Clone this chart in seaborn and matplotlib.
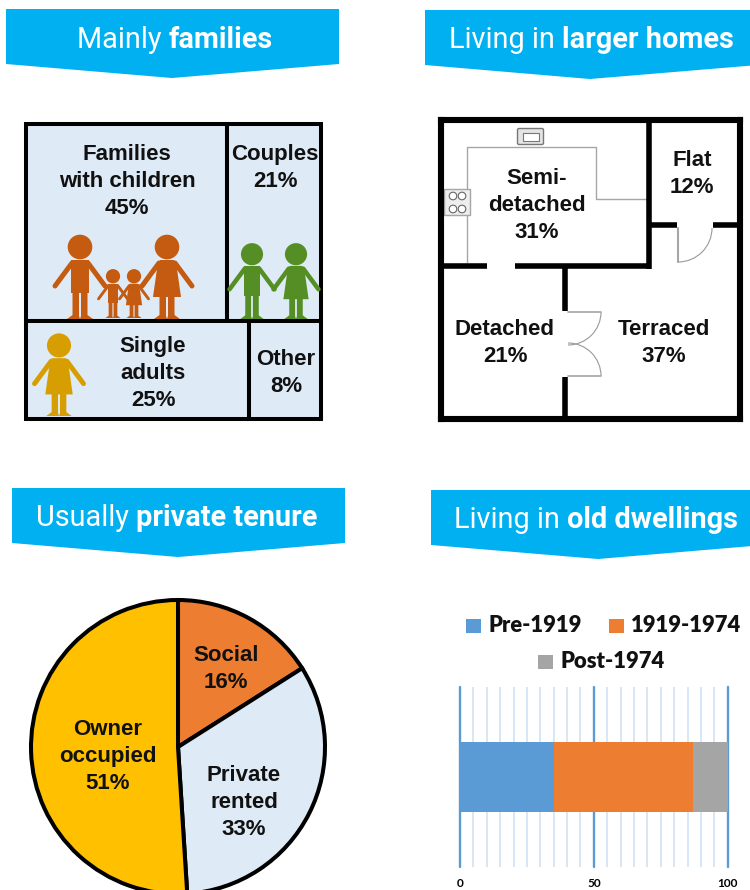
import matplotlib
matplotlib.use('Agg')
import matplotlib.pyplot as plt
import pandas as pd
import seaborn as sns
from matplotlib.patches import Arc, Circle, FancyBboxPatch, Polygon, Rectangle

household_labels = ['Families\nwith children', 'Couples', 'Single\nadults', 'Other']
household_shares = [45, 21, 25, 8]

home_labels = ['Semi-\ndetached', 'Flat', 'Detached', 'Terraced']
home_shares = [31, 12, 21, 37]

tenure_labels = ['Social', 'Private\nrented', 'Owner\noccupied']
tenure_shares = [16, 33, 51]

age_periods = ['Pre-1919', '1919-1974', 'Post-1974']
age_shares = [35, 52, 13]

W, H = 750, 890
BLUE = '#00B0F0'
PALE = '#DEEAF6'
SANS = 'Liberation Sans'

sns.set_theme(style='white')
plt.rcParams['font.family'] = [SANS, 'DejaVu Sans']

fig = plt.figure(figsize=(W / 100, H / 100), dpi=100)


def px_axes(x0, y0, x1, y1, **kw):
    return fig.add_axes([x0 / W, 1 - y1 / H, (x1 - x0) / W, (y1 - y0) / H], **kw)


over = px_axes(0, 0, W, H)
over.set_xlim(0, W)
over.set_ylim(H, 0)
over.axis('off')
over.set_zorder(5)
over.patch.set_alpha(0)


def banner(x0, x1, top, side, tip, tip_x, regular, bold, text_x):
    over.add_patch(Polygon([(x0, top), (x1, top), (x1, side), (tip_x, tip), (x0, side)],
                           fc=BLUE, ec='none'))
    y = (top + side) / 2
    t = over.text(text_x, y, regular + ' ', color='white', fontsize=20.8, va='center_baseline',
                  fontfamily='Roboto')
    over.annotate(bold, xy=(1, 0), xycoords=t, color='white', fontsize=20.8, fontweight='bold',
                  fontfamily='Roboto', va='bottom', ha='left', annotation_clip=False)


banner(6, 339, 9, 64, 78, 172, 'Mainly', 'families', 77)
banner(425, 758, 10, 65, 79, 590, 'Living in', 'larger homes', 449)
banner(12, 345, 488, 543, 557, 178, 'Usually', 'private tenure', 36)
banner(431, 764, 490, 545, 559, 598, 'Living in', 'old dwellings', 454)


def label(x, y, name, share, size=16, gap=27):
    lines = name.split('\n') + [f'{share}%']
    for i, line in enumerate(lines):
        over.text(x, y + 1.5 + i * gap, line, ha='center', va='center', fontsize=size,
                  fontweight='bold', color='#111111')


# treemap, split by the shares
bx0, by0, bx1, by1 = 26, 124, 321, 419
top_sum = household_shares[0] + household_shares[1]
low_sum = household_shares[2] + household_shares[3]
ymid = by0 + (by1 - by0) * top_sum / (top_sum + low_sum)
xtop = bx0 + (bx1 - bx0) * household_shares[0] / top_sum
xlow = bx0 + (bx1 - bx0) * household_shares[2] / low_sum
for x, y, w, h in [(bx0, by0, xtop - bx0, ymid - by0), (xtop, by0, bx1 - xtop, ymid - by0),
                   (bx0, ymid, xlow - bx0, by1 - ymid), (xlow, ymid, bx1 - xlow, by1 - ymid)]:
    over.add_patch(Rectangle((x, y), w, h, fc=PALE, ec='black', lw=2.9, joinstyle='miter', zorder=1))


def person(cx, ground, s, color, dress=False):
    def P(dx, dy):
        return (cx + dx * s, ground + dy * s)
    over.add_patch(Circle(P(0, -72), 12.3 * s, fc=color, ec='none', zorder=2))
    lw = 3.6 * s
    over.plot(*zip(P(-8, -56), P(-25, -33)), color=color, lw=lw, solid_capstyle='round', zorder=2)
    over.plot(*zip(P(8, -56), P(25, -33)), color=color, lw=lw, solid_capstyle='round', zorder=2)
    if dress:
        body = [P(-7, -59), P(7, -59), P(10, -50), P(14, -22), P(-14, -22), P(-10, -50)]
    else:
        body = [P(-9, -59), P(9, -59), P(9, -26), P(-9, -26)]
    over.add_patch(Polygon(body, fc=color, ec='none', zorder=2))
    over.add_patch(Polygon([P(-7.5, -28), P(-1, -28), P(-1, -3), P(0, 0), P(-13, 0), P(-7.5, -4)],
                           fc=color, ec='none', zorder=2))
    over.add_patch(Polygon([P(1, -28), P(7.5, -28), P(7.5, -4), P(13, 0), P(0, 0), P(1, -3)],
                           fc=color, ec='none', zorder=2))


person(80, 319, 1, '#C55A11')
person(167, 319, 1, '#C55A11', dress=True)
person(113, 318, 0.58, '#C55A11')
person(134, 318, 0.58, '#C55A11', dress=True)
person(252, 319, 0.9, '#548E24')
person(296, 319, 0.9, '#548E24', dress=True)
person(59, 416, 0.98, '#D69E00', dress=True)

label(127, 153, household_labels[0], household_shares[0])
label(275, 153, household_labels[1], household_shares[1])
label(153, 345, household_labels[2], household_shares[2])
label(286, 358, household_labels[3], household_shares[3])

# floor plan
outer_walls = [((441, 120), (740, 120)), ((740, 120), (740, 419)), ((740, 419), (441, 419)), ((441, 419), (441, 120))]
inner_walls = [((649, 120), (649, 268.5)), ((649, 225), (677, 225)), ((713, 225), (738, 225)),
               ((443, 266), (487, 266)), ((515, 266), (651, 266)),
               ((565, 266), (565, 311)), ((565, 377), (565, 417))]
for a, b in outer_walls:
    over.plot(*zip(a, b), color='black', lw=4.4, solid_capstyle='projecting', zorder=2)
for a, b in inner_walls:
    over.plot(*zip(a, b), color='black', lw=4, solid_capstyle='butt', zorder=2)

GREY = '#A6A6A6'
over.plot([467, 467, 596, 596, 647], [262, 147, 147, 199, 199], color=GREY, lw=1, zorder=1)
over.add_patch(FancyBboxPatch((519, 130), 23, 13, boxstyle='round,pad=1.5', fc='#E4E4E4', ec='#777777', lw=1))
over.add_patch(Rectangle((523, 133), 16, 8, fc='white', ec='#777777', lw=0.8))
over.add_patch(Rectangle((444, 189), 26, 26, fc='#EEEEEE', ec=GREY, lw=1))
for cx, cy in [(453, 196), (462, 196), (453, 209), (462, 209)]:
    over.add_patch(Circle((cx, cy), 3.8, fc='white', ec='#666666', lw=0.8))

over.plot([678, 678], [228, 262], color=GREY, lw=1.5)
over.add_patch(Arc((678, 228), 68, 68, theta1=0, theta2=90, color='#999999', lw=0.8))
over.plot([568, 601], [312, 312], color=GREY, lw=1.2)
over.plot([568, 601], [376, 376], color=GREY, lw=1.2)
over.add_patch(Arc((568, 312), 66, 66, theta1=0, theta2=90, color='#999999', lw=0.8))
over.add_patch(Arc((568, 376), 66, 66, theta1=270, theta2=360, color='#999999', lw=0.8))

label(692, 159, home_labels[1], home_shares[1])
label(537, 177, home_labels[0], home_shares[0])
label(505, 328, home_labels[2], home_shares[2])
label(664, 328, home_labels[3], home_shares[3])

# pie
pie_ax = px_axes(31, 600, 325, 894)
pie_ax.pie(tenure_shares, colors=['#ED7D31', PALE, '#FFC000'], startangle=90, counterclock=False,
           wedgeprops=dict(edgecolor='black', linewidth=2.9))
pie_ax.set_xlim(-1, 1)
pie_ax.set_ylim(-1, 1)
for w in pie_ax.patches:
    w.set_clip_on(False)
label(226, 654, tenure_labels[0], tenure_shares[0])
label(244, 774, tenure_labels[1], tenure_shares[1])
label(108, 728, tenure_labels[2], tenure_shares[2])

# stacked bar
df = pd.DataFrame({'dwelling': ['All'] * len(age_periods), 'period': age_periods, 'share': age_shares})
bar_ax = px_axes(460, 687, 727.7, 867)
palette = dict(zip(age_periods, ['#5B9BD5', '#ED7D31', '#A5A5A5']))
sns.histplot(data=df, y='dwelling', weights='share', hue='period', hue_order=age_periods[::-1],
             multiple='stack', discrete=True, shrink=0.389, palette=palette, alpha=1, linewidth=0,
             legend=False, ax=bar_ax)
bar_ax.set_xlim(0, 100)
bar_ax.set_ylim(-0.5, 0.5)
bar_ax.set_xlabel('')
bar_ax.set_ylabel('')
bar_ax.set_yticks([])
bar_ax.set_xticks([0, 50, 100])
bar_ax.set_xticks(range(0, 101, 5), minor=True)
bar_ax.tick_params(axis='x', which='both', length=0, pad=8)
for t in bar_ax.get_xticklabels():
    t.set_fontfamily('Lato')
    t.set_fontweight('bold')
    t.set_fontsize(8.5)
    t.set_color('black')
bar_ax.grid(False)
bar_ax.grid(True, axis='x', which='minor', color='#D2E3F3', lw=1.2)
bar_ax.grid(True, axis='x', which='major', color='#5B9BD5', lw=1.7)
bar_ax.set_axisbelow(True)
for g in bar_ax.get_xgridlines():
    g.set_clip_on(False)
sns.despine(ax=bar_ax, left=True, bottom=True)

# legend
for name, x, y, color in [(age_periods[0], 466, 626, palette[age_periods[0]]),
                          (age_periods[1], 609, 626, palette[age_periods[1]]),
                          (age_periods[2], 538, 662, palette[age_periods[2]])]:
    over.add_patch(Rectangle((x, y - 7), 15, 14, fc=color, ec='none'))
    over.text(x + 22, y, name, fontsize=15.8, fontweight='heavy', fontfamily='Lato', va='center', color='#111111')

fig.savefig('out.png', dpi=100)
